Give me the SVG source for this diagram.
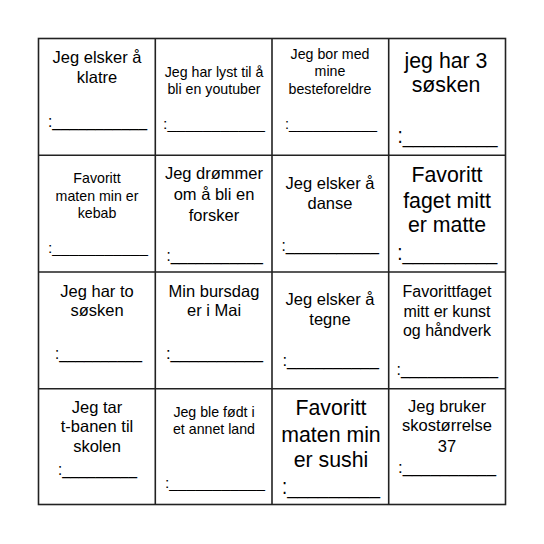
<svg xmlns="http://www.w3.org/2000/svg" width="544" height="544" viewBox="0 0 544 544">
<style>
text{font-family:"Liberation Sans",Arial,sans-serif;fill:#000;text-anchor:middle}
.b{text-anchor:start}
.s14{font-size:14.2px}.s15{font-size:16px}.s16{font-size:16.5px}.s20{font-size:21.3px}
.grid{stroke:#222;stroke-width:1.6;fill:none}
</style>
<rect width="544" height="544" fill="#fff"/>
<g id="grid" class="grid">
<rect x="38.5" y="38.5" width="467" height="466"/>
<path d="M155.3 38.5V504.5M272 38.5V504.5M388.7 38.5V504.5M38.5 155.3H505.5M38.5 272H505.5M38.5 388.7H505.5"/>
</g>
<g id="c00" class="s16"><text x="97" y="62.5">Jeg elsker å</text><text x="97" y="82.5">klatre</text><text class="b" x="48" y="126.5" textLength="99" lengthAdjust="spacingAndGlyphs">:___________</text></g>
<g id="c01" class="s14"><text x="214" y="76.5">Jeg har lyst til å</text><text x="214" y="93.5">bli en youtuber</text><text class="b" x="163" y="129" textLength="102" lengthAdjust="spacingAndGlyphs">:___________</text></g>
<g id="c02" class="s14"><text x="330" y="58.5">Jeg bor med</text><text x="330" y="76">mine</text><text x="330" y="93.5">besteforeldre</text><text class="b" x="285" y="129" textLength="92" lengthAdjust="spacingAndGlyphs">:___________</text></g>
<g id="c03" class="s20"><text x="446" y="67.5">jeg har 3</text><text x="446" y="91.5">søsken</text><text class="b" x="397.5" y="143" textLength="100" lengthAdjust="spacingAndGlyphs">:_________</text></g>
<g id="c10" class="s14"><text x="97" y="183">Favoritt</text><text x="97" y="201">maten min er</text><text x="97" y="217.5">kebab</text><text class="b" x="48" y="252.5" textLength="100" lengthAdjust="spacingAndGlyphs">:___________</text></g>
<g id="c11" class="s16"><text x="214" y="178.5">Jeg drømmer</text><text x="214" y="199.5">om å bli en</text><text x="214" y="220.5">forsker</text><text class="b" x="166.5" y="261" textLength="96.5" lengthAdjust="spacingAndGlyphs">:___________</text></g>
<g id="c12" class="s16"><text x="330" y="188.5">Jeg elsker å</text><text x="330" y="208.5">danse</text><text class="b" x="281.5" y="251" textLength="97.5" lengthAdjust="spacingAndGlyphs">:___________</text></g>
<g id="c13" class="s20"><text x="447" y="182.3">Favoritt</text><text x="447" y="207.5">faget mitt</text><text x="447" y="232.3">er matte</text><text class="b" x="397.3" y="260" textLength="100" lengthAdjust="spacingAndGlyphs">:_________</text></g>
<g id="c20" class="s16"><text x="97" y="296.5">Jeg har to</text><text x="97" y="315.5">søsken</text><text class="b" x="55" y="358.5" textLength="87" lengthAdjust="spacingAndGlyphs">:__________</text></g>
<g id="c21" class="s16"><text x="214" y="296.5">Min bursdag</text><text x="214" y="315.5">er i Mai</text><text class="b" x="166" y="358.5" textLength="97" lengthAdjust="spacingAndGlyphs">:__________</text></g>
<g id="c22" class="s16"><text x="330" y="305">Jeg elsker å</text><text x="330" y="325">tegne</text><text class="b" x="282.5" y="366" textLength="96.5" lengthAdjust="spacingAndGlyphs">:__________</text></g>
<g id="c23" class="s15"><text x="447" y="296.5">Favorittfaget</text><text x="447" y="316.5">mitt er kunst</text><text x="447" y="335.5">og håndverk</text><text class="b" x="396.5" y="374.5" textLength="101.5" lengthAdjust="spacingAndGlyphs">:___________</text></g>
<g id="c30" class="s16"><text x="97" y="412.5">Jeg tar</text><text x="97" y="432">t-banen til</text><text x="97" y="451.5">skolen</text><text class="b" x="58" y="474.5" textLength="79" lengthAdjust="spacingAndGlyphs">:_________</text></g>
<g id="c31" class="s14"><text x="214" y="416.5">Jeg ble født i</text><text x="214" y="433.5">et annet land</text><text class="b" x="165" y="487.5" textLength="100" lengthAdjust="spacingAndGlyphs">:___________</text></g>
<g id="c32" class="s20"><text x="331" y="415">Favoritt</text><text x="331" y="441.5">maten min</text><text x="331" y="466.5">er sushi</text><text class="b" x="282" y="494" textLength="98" lengthAdjust="spacingAndGlyphs">:_________</text></g>
<g id="c33" class="s16"><text x="447" y="411.5">Jeg bruker</text><text x="447" y="431">skostørrelse</text><text x="447" y="451.5">37</text><text class="b" x="398" y="472.5" textLength="98" lengthAdjust="spacingAndGlyphs">:__________</text></g>
</svg>
